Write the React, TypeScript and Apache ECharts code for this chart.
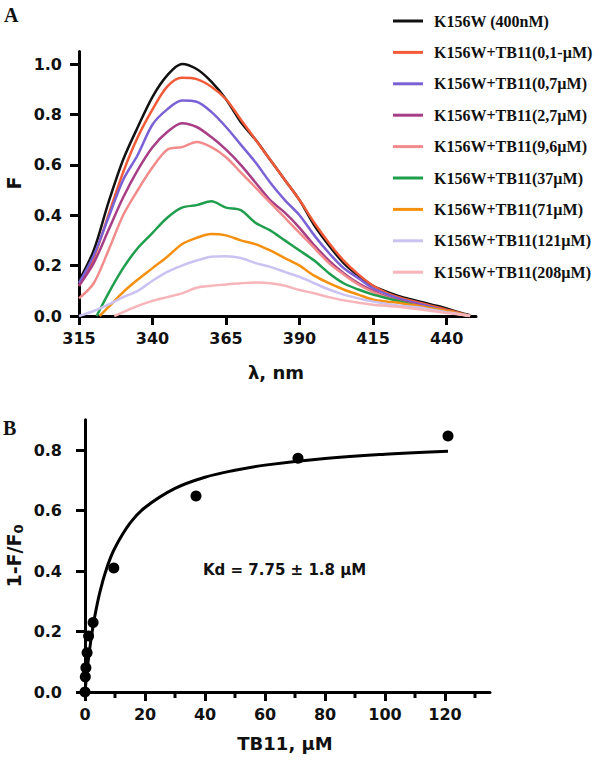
import React, { useEffect, useRef } from "react";
import * as echarts from "echarts";

// ---------- Panel A: emission spectra ----------
const wavelengths = [315, 320, 325, 330, 335, 340, 345, 350, 355, 360, 365, 370, 375, 380, 385, 390, 395, 400, 405, 410, 415, 420, 425, 430, 435, 440, 445, 448];

const seriesNames = [
  "K156W (400nM)",
  "K156W+TB11(0,1-µM)",
  "K156W+TB11(0,7µM)",
  "K156W+TB11(2,7µM)",
  "K156W+TB11(9,6µM)",
  "K156W+TB11(37µM)",
  "K156W+TB11(71µM)",
  "K156W+TB11(121µM)",
  "K156W+TB11(208µM)",
];
const seriesColors = ["#111111", "#f25a38", "#7a62d6", "#a83e86", "#f28c8c", "#1f9e4e", "#f5900f", "#cbc2f2", "#f7b5ba"];

const fBlack = [0.14, 0.26, 0.45, 0.62, 0.75, 0.87, 0.955, 1.0, 0.98, 0.93, 0.86, 0.77, 0.7, 0.62, 0.54, 0.46, 0.36, 0.28, 0.21, 0.16, 0.12, 0.095, 0.075, 0.06, 0.045, 0.03, 0.012, 0.003];
const f01 = [0.12, 0.23, 0.4, 0.57, 0.71, 0.82, 0.91, 0.945, 0.94, 0.91, 0.86, 0.78, 0.7, 0.62, 0.54, 0.46, 0.37, 0.29, 0.22, 0.165, 0.12, 0.09, 0.07, 0.055, 0.04, 0.025, 0.01, 0.0];
const f07 = [0.13, 0.24, 0.39, 0.54, 0.64, 0.76, 0.82, 0.855, 0.85, 0.81, 0.75, 0.68, 0.61, 0.53, 0.46, 0.4, 0.32, 0.25, 0.19, 0.15, 0.11, 0.085, 0.065, 0.05, 0.035, 0.02, 0.008, 0.0];
const f27 = [0.12, 0.21, 0.34, 0.47, 0.58, 0.67, 0.73, 0.765, 0.75, 0.71, 0.66, 0.6, 0.53, 0.46, 0.41, 0.35, 0.28, 0.22, 0.17, 0.13, 0.1, 0.075, 0.058, 0.045, 0.03, 0.018, 0.007, 0.0];
const f96 = [0.07, 0.13, 0.26, 0.4, 0.5, 0.59, 0.66, 0.67, 0.69, 0.67, 0.63, 0.57, 0.51, 0.45, 0.39, 0.33, 0.27, 0.21, 0.165, 0.125, 0.095, 0.072, 0.055, 0.042, 0.03, 0.017, 0.006, 0.0];
const f37 = [null, null, 0.09, 0.19, 0.27, 0.33, 0.39, 0.43, 0.44, 0.455, 0.43, 0.42, 0.37, 0.34, 0.3, 0.26, 0.22, 0.17, 0.13, 0.105, 0.085, 0.07, 0.055, 0.04, 0.03, 0.018, 0.007, 0.0];
const f71 = [null, null, 0.035, 0.095, 0.145, 0.19, 0.235, 0.285, 0.31, 0.325, 0.32, 0.3, 0.285, 0.26, 0.23, 0.2, 0.16, 0.13, 0.105, 0.085, 0.065, 0.057, 0.05, 0.04, 0.03, 0.02, 0.008, 0.0];
const f121 = [0.0, 0.02, 0.045, 0.075, 0.1, 0.14, 0.175, 0.2, 0.22, 0.235, 0.237, 0.23, 0.21, 0.195, 0.175, 0.155, 0.13, 0.105, 0.085, 0.07, 0.057, 0.047, 0.04, 0.035, 0.025, 0.015, 0.006, 0.0];
const f208 = [null, null, null, 0.015, 0.04, 0.06, 0.075, 0.09, 0.112, 0.12, 0.125, 0.13, 0.133, 0.13, 0.12, 0.103, 0.09, 0.075, 0.062, 0.053, 0.045, 0.04, 0.035, 0.028, 0.02, 0.012, 0.005, 0.0];
const spectra = [fBlack, f01, f07, f27, f96, f37, f71, f121, f208];
// wavelength where a curve leaves the baseline (null = starts at first wavelength)
const onsets = [null, null, null, null, null, 321, 322, null, 327];

const xTicksA = [315, 340, 365, 390, 415, 440];
const yTicksA = [0, 0.2, 0.4, 0.6, 0.8, 1.0];

// ---------- Panel B: binding isotherm ----------
const concTB11 = [0, 0.1, 0.3, 0.7, 1.2, 2.7, 9.6, 37, 71, 121];
const quench = [0, 0.05, 0.08, 0.13, 0.185, 0.23, 0.41, 0.648, 0.773, 0.846];
const fitX = [0, 1, 2, 3, 5, 7.5, 10, 15, 20, 30, 40, 50, 60, 80, 100, 121];
const fitY = [0, 0.097, 0.174, 0.236, 0.332, 0.417, 0.477, 0.558, 0.61, 0.673, 0.71, 0.733, 0.75, 0.772, 0.786, 0.796];
const xTicksB = [0, 20, 40, 60, 80, 100, 120];
const xMinorB = [10, 30, 50, 70, 90, 110, 130];
const yTicksB = [0, 0.2, 0.4, 0.6, 0.8];

const SANS = "DejaVu Sans";
const SERIF = "Liberation Serif";

export default function App() {
  const ref = useRef<HTMLDivElement>(null);
  useEffect(() => {
    if (!ref.current) return;
    const chart = echarts.init(ref.current, undefined, { renderer: "svg" });

    const axisLine = { show: true, lineStyle: { color: "#000", width: 3 } };
    const labelStyle = { color: "#111", fontFamily: SANS, fontWeight: "bold", fontSize: 16 };
    const tickStyle = { color: "#000", width: 3 };

    const specSeries = spectra.map((vals, i) => {
      const pts: [number, number][] = [];
      if (onsets[i] != null) pts.push([onsets[i] as number, 0]);
      vals.forEach((v, j) => {
        if (v != null) pts.push([wavelengths[j], v]);
      });
      return {
        name: seriesNames[i],
        type: "line",
        xAxisIndex: 0,
        yAxisIndex: 0,
        data: pts,
        showSymbol: false,
        symbol: "none",
        smooth: 0.3,
        lineStyle: { color: seriesColors[i], width: 2.5 },
        itemStyle: { color: seriesColors[i] },
        z: 2 + i,
      };
    });

    const option: any = {
      animation: false,
      backgroundColor: "#fff",
      grid: [
        { left: 79, top: 51.4, width: 397, height: 264.6, outerBoundsMode: "none", containLabel: false },
        { left: 79, top: 419.75, width: 411, height: 272.25, outerBoundsMode: "none", containLabel: false },
      ],
      legend: {
        data: seriesNames,
        orient: "vertical",
        left: 388,
        top: 6,
        itemWidth: 30,
        itemHeight: 3,
        itemGap: 11.4,
        icon: "rect",
        textStyle: {
          fontFamily: SERIF,
          fontWeight: "bold",
          fontSize: 16,
          color: "#111",
          lineHeight: 20,
          padding: [0, 0, 0, 6],
        },
        selectedMode: false,
      },
      xAxis: [
        {
          type: "value",
          gridIndex: 0,
          position: "bottom",
          min: 315,
          max: 450,
          axisLine,
          splitLine: { show: false },
          axisTick: { show: true, customValues: xTicksA, length: 9, lineStyle: tickStyle },
          axisLabel: { ...labelStyle, customValues: xTicksA, margin: 14 },
        },
        {
          type: "value",
          gridIndex: 1,
          position: "bottom",
          min: -2,
          max: 135,
          axisLine,
          splitLine: { show: false },
          axisTick: { show: true, customValues: xTicksB, length: 9, lineStyle: tickStyle },
          axisLabel: { ...labelStyle, customValues: xTicksB, margin: 14 },
        },
      ],
      yAxis: [
        {
          type: "value",
          gridIndex: 0,
          min: 0,
          max: 1.05,
          axisLine,
          splitLine: { show: false },
          axisTick: { show: true, customValues: yTicksA, length: 9, lineStyle: tickStyle },
          axisLabel: { ...labelStyle, customValues: yTicksA, margin: 17, formatter: (v: number) => v.toFixed(1) },
        },
        {
          type: "value",
          gridIndex: 1,
          min: 0,
          max: 0.9,
          axisLine,
          splitLine: { show: false },
          axisTick: { show: true, customValues: yTicksB, length: 9, lineStyle: tickStyle },
          axisLabel: { ...labelStyle, customValues: yTicksB, margin: 17, formatter: (v: number) => v.toFixed(1) },
        },
      ],
      series: [
        ...specSeries,
        {
          name: "fit",
          type: "line",
          xAxisIndex: 1,
          yAxisIndex: 1,
          data: fitX.map((x, i) => [x, fitY[i]]),
          smooth: 0.4,
          showSymbol: false,
          symbol: "none",
          lineStyle: { color: "#000", width: 3 },
          z: 5,
        },
        {
          name: "data",
          type: "scatter",
          xAxisIndex: 1,
          yAxisIndex: 1,
          data: concTB11.map((x, i) => [x, quench[i]]),
          symbol: "circle",
          symbolSize: 11,
          itemStyle: { color: "#000", opacity: 1 },
          z: 6,
        },
        {
          name: "minorTicksB",
          type: "custom",
          xAxisIndex: 1,
          yAxisIndex: 1,
          clip: false,
          silent: true,
          data: xMinorB.map((x) => [x, 0]),
          encode: { x: 0, y: 1 },
          renderItem: (_params: any, api: any) => {
            const p = api.coord([api.value(0), api.value(1)]);
            return {
              type: "line",
              shape: { x1: p[0], y1: p[1], x2: p[0], y2: p[1] + 6 },
              style: { stroke: "#000", lineWidth: 3 },
            };
          },
          z: 1,
        },
      ],
      graphic: [
        { type: "text", left: 4, top: 5, style: { text: "A", font: `bold 20px '${SERIF}'`, fill: "#111" } },
        { type: "text", left: 3, top: 418, style: { text: "B", font: `bold 20px '${SERIF}'`, fill: "#111" } },
        {
          type: "text",
          x: 14,
          y: 183,
          rotation: Math.PI / 2,
          style: { text: "F", font: `bold 19px '${SANS}'`, fill: "#111", align: "center", verticalAlign: "middle" },
        },
        {
          type: "text",
          x: 276,
          y: 372,
          style: { text: "λ, nm", font: `bold 18px '${SANS}'`, fill: "#111", align: "center", verticalAlign: "middle" },
        },
        {
          type: "text",
          x: 14,
          y: 556,
          rotation: Math.PI / 2,
          style: {
            text: "{m|1-F/F}{s|0}",
            fill: "#111",
            align: "center",
            verticalAlign: "middle",
            rich: {
              m: { font: `bold 19px '${SANS}'`, fill: "#111" },
              s: { font: `bold 13px '${SANS}'`, fill: "#111", padding: [8, 0, 0, 0] },
            },
          },
        },
        {
          type: "text",
          x: 285,
          y: 743,
          style: { text: "TB11, µM", font: `bold 18px '${SANS}'`, fill: "#111", align: "center", verticalAlign: "middle" },
        },
        {
          type: "text",
          x: 203,
          y: 570,
          style: { text: "Kd = 7.75 ± 1.8 µM", font: `bold 15px '${SANS}'`, fill: "#111", align: "left", verticalAlign: "middle" },
        },
      ],
    };
    chart.setOption(option);
    return () => chart.dispose();
  }, []);
  return <div ref={ref} style={{ position: "fixed", left: 0, top: 0, width: 600, height: 760, background: "#fff" }} />;
}
